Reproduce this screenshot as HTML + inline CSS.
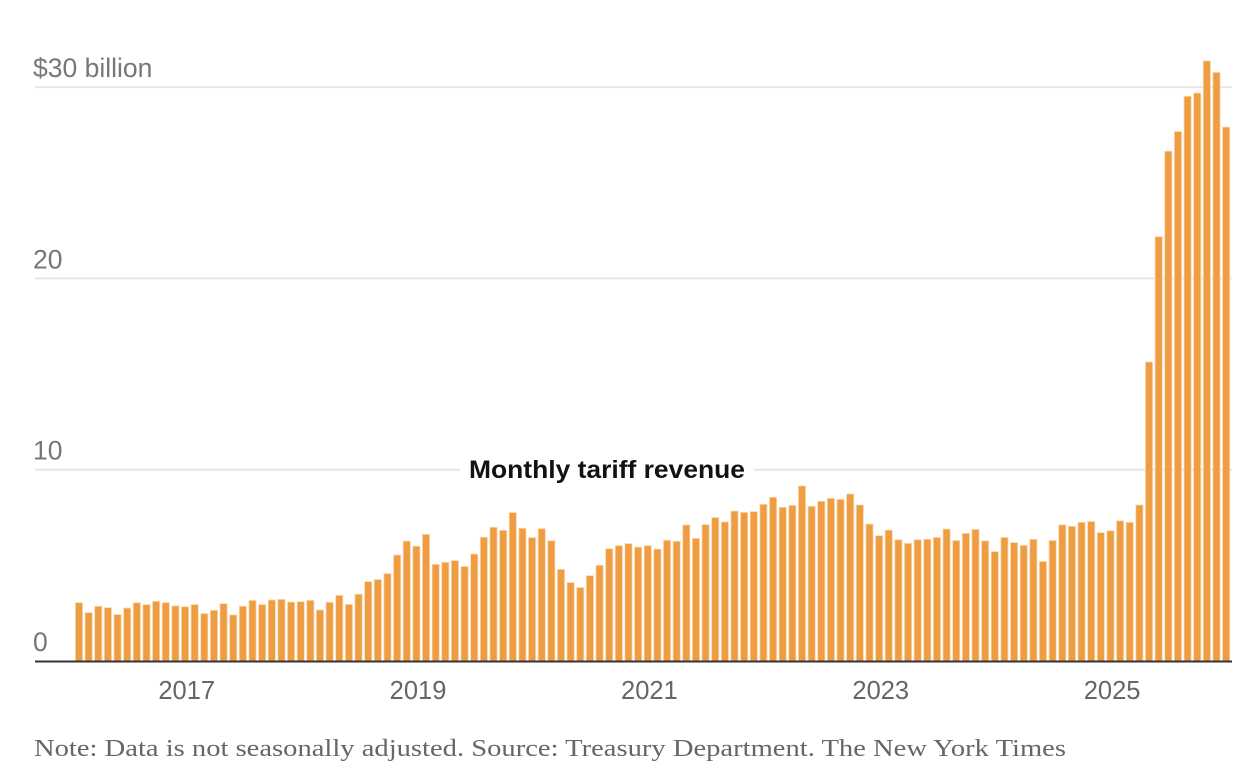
<!DOCTYPE html>
<html><head><meta charset="utf-8"><style>
body{margin:0;background:#fff;width:1256px;height:780px;overflow:hidden;font-family:"Liberation Sans",sans-serif}
svg{display:block}
</style></head><body>
<svg id="chart" width="1256" height="780" viewBox="0 0 1256 780" xmlns="http://www.w3.org/2000/svg">
<g id="grid"></g>
<g id="bars"></g>
<g id="ylabels"></g>
<g id="xlabels"></g>
<line x1="35" x2="1232" y1="661.5" y2="661.5" stroke="#333" stroke-width="2"/>
<rect x="460" y="455" width="294" height="28" fill="#fff"/>
<text x="469" y="478" textLength="276" lengthAdjust="spacingAndGlyphs" font-size="25" font-weight="bold" fill="#121212">Monthly tariff revenue</text>
<text x="34" y="756" textLength="1032" lengthAdjust="spacingAndGlyphs" font-family="Liberation Serif, serif" font-size="24" fill="#666">Note: Data is not seasonally adjusted. Source: Treasury Department.  The New York Times</text>
</svg>
<script>
const values=[3.05,2.53,2.86,2.79,2.43,2.77,3.05,2.95,3.12,3.05,2.88,2.84,
2.95,2.48,2.65,3.0,2.41,2.86,3.17,2.95,3.19,3.22,3.08,3.1,
3.17,2.67,3.07,3.43,2.96,3.49,4.15,4.26,4.57,5.54,6.27,6.0,
6.62,5.05,5.16,5.25,4.94,5.59,6.47,6.99,6.83,7.76,6.94,6.45,
6.92,6.29,4.79,4.10,3.84,4.46,5.0,5.87,6.03,6.14,5.95,6.03,
5.85,6.31,6.26,7.11,6.41,7.13,7.5,7.27,7.84,7.77,7.81,8.19,
8.56,8.03,8.14,9.15,8.09,8.35,8.5,8.45,8.73,8.16,7.16,6.55,
6.84,6.34,6.15,6.34,6.36,6.46,6.9,6.3,6.67,6.88,6.28,5.72,
6.46,6.19,6.05,6.36,5.2,6.3,7.12,7.04,7.25,7.29,6.71,6.81,
7.33,7.25,8.16,15.63,22.18,26.65,27.68,29.52,29.69,31.37,30.77,27.91];
const yTicks=[0,10,20,30];
const yTickLabels=["0","10","20","$30 billion"];
const xTickIdx=[12,36,60,84,108];
const xTickLabels=["2017","2019","2021","2023","2025"];
const NS="http://www.w3.org/2000/svg";
const y=v=>661-v*19.13;
const x=i=>79+i*9.64;
const grid=document.getElementById('grid'),bars=document.getElementById('bars'),yl=document.getElementById('ylabels'),xl=document.getElementById('xlabels');
yTicks.forEach((t,k)=>{
  if(t>0){const l=document.createElementNS(NS,'line');
  
  
  l.setAttribute('x1',35);l.setAttribute('x2',1232);l.setAttribute('y1',y(t));l.setAttribute('y2',y(t));
  l.setAttribute('stroke','#e6e6e6');l.setAttribute('stroke-width','2');grid.appendChild(l);}
  const tx=document.createElementNS(NS,'text');
  
  
  tx.setAttribute('x',33);tx.setAttribute('y',y(t)-10);tx.setAttribute('font-size','26.5');tx.setAttribute('fill','#777');
  tx.textContent=yTickLabels[k];yl.appendChild(tx);
});
values.forEach((v,i)=>{
  const r=document.createElementNS(NS,'rect');
  
  
  r.setAttribute('x',x(i)-3.6);r.setAttribute('width',7.2);
  r.setAttribute('y',y(v));r.setAttribute('height',661-y(v));
  r.setAttribute('fill','#ef9d43');r.setAttribute('stroke','#fbd9b3');r.setAttribute('stroke-width','0.8');
  bars.appendChild(r);
});
xTickIdx.forEach((idx,k)=>{
  const tx=document.createElementNS(NS,'text');
  
  
  tx.setAttribute('x',x(idx)-8);tx.setAttribute('y',699);tx.setAttribute('text-anchor','middle');
  tx.setAttribute('font-size','25.5');tx.setAttribute('fill','#666');
  tx.textContent=xTickLabels[k];xl.appendChild(tx);
});
</script>
</body></html>
